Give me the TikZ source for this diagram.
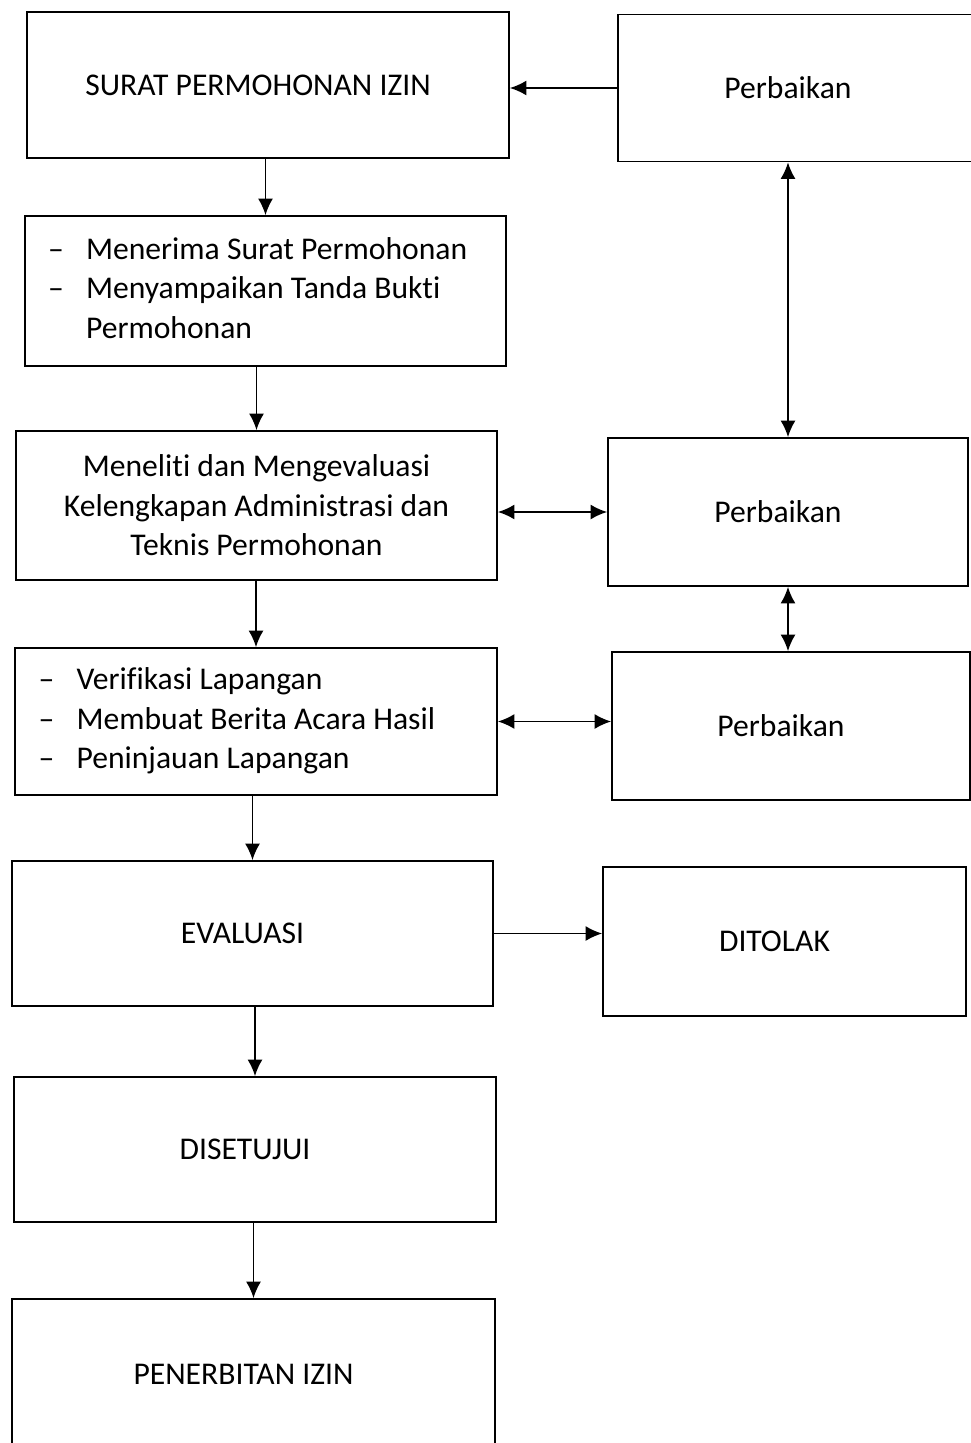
\documentclass[tikz,border=0pt]{standalone}
\usepackage{fontspec}
\setmainfont{Carlito}[Ligatures=NoCommon]
\usetikzlibrary{arrows.meta,calc}

\tikzset{
  kotak/.style 2 args={draw, line width=1pt, minimum width=#1*0.02cm,
    minimum height=#2*0.02cm, inner sep=0pt, align=center,
    font=\fontsize{18}{22.5}\selectfont},
  daftar/.style={align=flush left, text width=8.7cm, inner xsep=0.4cm},
  geser/.style={execute at begin node={\hspace*{-0.4cm}}},
  panah/.style={line width=1pt, -{Latex[length=3.3mm,width=3mm]}},
  duapanah/.style={line width=1pt, {Latex[length=3.3mm,width=3mm]}-{Latex[length=3.3mm,width=3mm]}}
}

\begin{document}
\begin{tikzpicture}[x=0.02cm, y=-0.02cm]
        \useasboundingbox (0,0) rectangle (970,1443);
        % kolom kiri
        \node[kotak={482}{146}, geser] (surat) at (268,85) {SURAT PERMOHONAN IZIN};
        \node[kotak={481}{150}, daftar] (menerima) at (265.5,291)
          {\begin{tabular}{@{}p{0.76cm}@{}l@{}}
           -- & Menerima Surat Permohonan\\
           -- & Menyampaikan Tanda Bukti\\
              & Permohonan
           \end{tabular}};
        \node[kotak={481}{149}] (meneliti) at (256.5,505.5)
          {Meneliti dan Mengevaluasi\\Kelengkapan Administrasi dan\\Teknis Permohonan};
        \node[kotak={482}{147}, daftar, inner xsep=0.44cm] (verifikasi) at (256,721.5)
          {\begin{tabular}{@{}p{0.76cm}@{}l@{}}
           -- & Verifikasi Lapangan\\
           -- & Membuat Berita Acara Hasil\\
           -- & Peninjauan Lapangan
           \end{tabular}};
        \node[kotak={481}{145}, geser] (evaluasi) at (252.5,933.5) {EVALUASI};
        \node[kotak={482}{145}, geser] (disetujui) at (255,1149.5) {DISETUJUI};
        \node[kotak={483}{151}, geser] (penerbitan) at (253.5,1374.5) {PENERBITAN IZIN};
        % kolom kanan
        \node[kotak={372}{147}] (perbaikanA) at (804,88) {\hspace*{-0.64cm}Perbaikan};
        \node[kotak={360}{148}, geser] (perbaikanB) at (788,512) {Perbaikan};
        \node[kotak={358}{148}, geser] (perbaikanC) at (791,726) {Perbaikan};
        \node[kotak={363}{149}, geser] (ditolak) at (784.5,941.5) {DITOLAK};
        % alur utama
        \draw[panah] (menerima.north |- surat.south) -- (menerima.north);
        \draw[panah] (meneliti.north |- menerima.south) -- (meneliti.north);
        \draw[panah] (verifikasi.north |- meneliti.south) -- (verifikasi.north);
        \draw[panah] (evaluasi.north |- verifikasi.south) -- (evaluasi.north);
        \draw[panah] (disetujui.north |- evaluasi.south) -- (disetujui.north);
        \draw[panah] (penerbitan.north |- disetujui.south) -- (penerbitan.north);
        % perbaikan
        \draw[panah] (perbaikanA.west) -- (surat.east |- perbaikanA.west);
        \draw[duapanah] (meneliti.east |- perbaikanB.west) -- (perbaikanB.west);
        \draw[duapanah] (verifikasi.east) -- (verifikasi.east -| perbaikanC.west);
        \draw[panah] (evaluasi.east) -- (evaluasi.east -| ditolak.west);
        \draw[duapanah] (perbaikanB.north |- perbaikanA.south) -- (perbaikanB.north);
        \draw[duapanah] (perbaikanB.south) -- (perbaikanB.south |- perbaikanC.north);
    \end{tikzpicture}
\end{document}
